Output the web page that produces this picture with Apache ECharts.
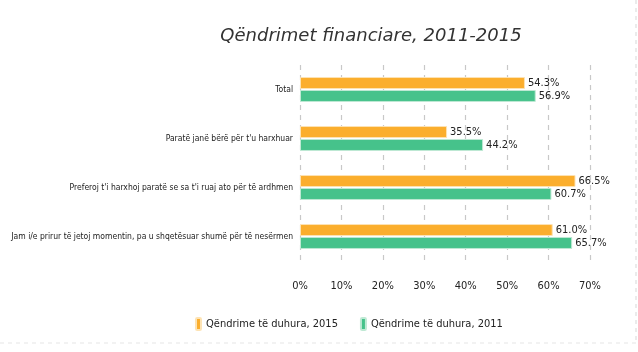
<!DOCTYPE html>
<html lang="sq">
<head>
    <meta charset="UTF-8">
    <title>Qëndrimet financiare, 2011-2015</title>
    <script src="https://cdn.jsdelivr.net/npm/echarts@6/dist/echarts.min.js"></script>
    <style>
        html, body { margin: 0; padding: 0; background: #fff; }
    </style>
</head>
<body>
    <div id="chart" style="width: 638px; height: 352px;"></div>
    <script>
        // kategorite dhe vlerat (%)
        const categories = [
            'Total',
            'Paratë janë bërë për t\'u harxhuar',
            'Preferoj t\'i harxhoj paratë se sa t\'i ruaj ato për të ardhmen',
            'Jam i/e prirur të jetoj momentin, pa u shqetësuar shumë për të nesërmen'
        ];
        const values2015 = [54.3, 35.5, 66.5, 61.0];
        const values2011 = [56.9, 44.2, 60.7, 65.7];
        const seriesNames = ['Qëndrime të duhura, 2015', 'Qëndrime të duhura, 2011'];

        const font = "'DejaVu Sans Condensed', sans-serif";
        const chart = echarts.init(document.getElementById('chart'));

        const labelOpt = {
            show: true,
            position: 'right',
            distance: 3,
            color: '#222',
            fontFamily: font,
            fontSize: 11,
            formatter: p => p.value.toFixed(1) + '%'
        };

        chart.setOption({
            animation: false,
            title: {
                text: 'Qëndrimet financiare, 2011-2015',
                left: 366,
                textAlign: 'center',
                top: 22,
                textStyle: {
                    fontFamily: "'DejaVu Sans', sans-serif",
                    fontStyle: 'italic',
                    fontWeight: 200,
                    fontSize: 18,
                    color: '#333'
                }
            },
            legend: {
                left: 190,
                top: 312,
                itemWidth: 5,
                itemHeight: 12,
                itemGap: 22,
                textStyle: { fontFamily: font, fontSize: 11, color: '#222' },
                data: seriesNames
            },
            grid: {
                left: 300, right: 48, top: 65, bottom: 91,
                containLabel: false,
                outerBoundsMode: 'none'
            },
            xAxis: {
                type: 'value',
                min: 0,
                max: 70,
                interval: 10,
                axisLine: { show: false },
                axisTick: { show: false },
                axisLabel: {
                    formatter: '{value}%',
                    margin: 20,
                    fontFamily: font,
                    fontSize: 11,
                    color: '#222'
                },
                splitLine: {
                    lineStyle: { type: [5, 5], color: '#c8c8c8', width: 1.2 }
                }
            },
            yAxis: {
                type: 'category',
                inverse: true,
                data: categories,
                axisLine: { show: false },
                axisTick: { show: false },
                axisLabel: {
                    margin: 7,
                    fontFamily: font,
                    fontSize: 8.5,
                    color: '#222'
                }
            },
            series: [
                {
                    name: seriesNames[0],
                    type: 'bar',
                    data: values2015,
                    barWidth: 12,
                    barGap: '8%',
                    itemStyle: { color: '#FBAE2D', borderColor: '#fde3b4', borderWidth: 1 },
                    label: labelOpt
                },
                {
                    name: seriesNames[1],
                    type: 'bar',
                    data: values2011,
                    barWidth: 12,
                    itemStyle: { color: '#46C28B', borderColor: '#bfe9d4', borderWidth: 1 },
                    label: labelOpt
                }
            ],
            graphic: [
                {
                    type: 'line',
                    shape: { x1: 636, y1: 0, x2: 636, y2: 343 },
                    style: { stroke: '#d8d8d8', lineDash: [4, 4], lineWidth: 1 }
                },
                {
                    type: 'line',
                    shape: { x1: 0, y1: 343, x2: 636, y2: 343 },
                    style: { stroke: '#e6e6e6', lineDash: [4, 4], lineWidth: 1 }
                }
            ]
        });
    </script>
</body>
</html>
